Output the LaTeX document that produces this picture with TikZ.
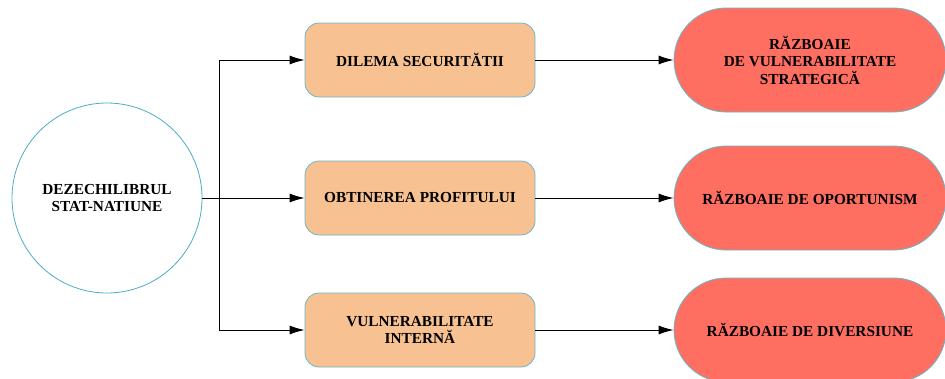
\documentclass[tikz,border=0pt]{standalone}
\usepackage{fontspec}
\setmainfont{Liberation Serif}
\usetikzlibrary{arrows.meta,shapes.misc}
\definecolor{boxfill}{HTML}{F8C191}
\definecolor{redfill}{HTML}{FF6F61}
\definecolor{edgeblue}{HTML}{6BB6C8}
\definecolor{circblue}{HTML}{4BACC6}
\begin{document}
\begin{tikzpicture}[x=1pt,y=-1pt,
  txt/.style={font=\bfseries\fontsize{15.3}{17.5}\selectfont, align=center, text=black},
  bigcirc/.style={circle, draw=circblue, line width=0.8pt, minimum size=190pt, inner sep=0pt, txt},
  midbox/.style={rectangle, rounded corners=14pt, draw=edgeblue, line width=0.8pt, fill=boxfill, minimum width=230pt, minimum height=74pt, inner sep=0pt, txt},
  warbox/.style={rounded rectangle, draw=edgeblue, line width=0.8pt, fill=redfill, minimum width=272pt, minimum height=104pt, inner sep=0pt, txt},
  conn/.style={line width=1pt, draw=black},
  arr/.style={conn, -{Latex[length=15pt,width=9pt]}}
]
\useasboundingbox (0,0) rectangle (945,378);
\node[bigcirc] (c) at (107,198) {DEZECHILIBRUL\\STAT-NATIUNE};
\node[midbox] (b1) at (420,60) {DILEMA SECURITĂTII};
\node[midbox] (b2) at (420,198) {OBTINEREA PROFITULUI};
\node[midbox] (b3) at (420,330) {VULNERABILITATE\\INTERNĂ};
\node[warbox] (r1) at (810,60) {RĂZBOAIE\\DE VULNERABILITATE\\STRATEGICĂ};
\node[warbox] (r2) at (810,198) {RĂZBOAIE DE OPORTUNISM};
\node[warbox] (r3) at (810,330) {RĂZBOAIE DE DIVERSIUNE};
\coordinate (t1) at (219,60);
\coordinate (t2) at (219,198);
\coordinate (t3) at (219,330);
\draw[conn] (c.east) -- (t2);
\draw[conn] (t1) -- (t3);
\draw[arr] (t1) -- (b1.west);
\draw[arr] (t2) -- (b2.west);
\draw[arr] (t3) -- (b3.west);
\draw[arr] (b1.east) -- (r1.west);
\draw[arr] (b2.east) -- (r2.west);
\draw[arr] (b3.east) -- (r3.west);
\end{tikzpicture}
\end{document}
